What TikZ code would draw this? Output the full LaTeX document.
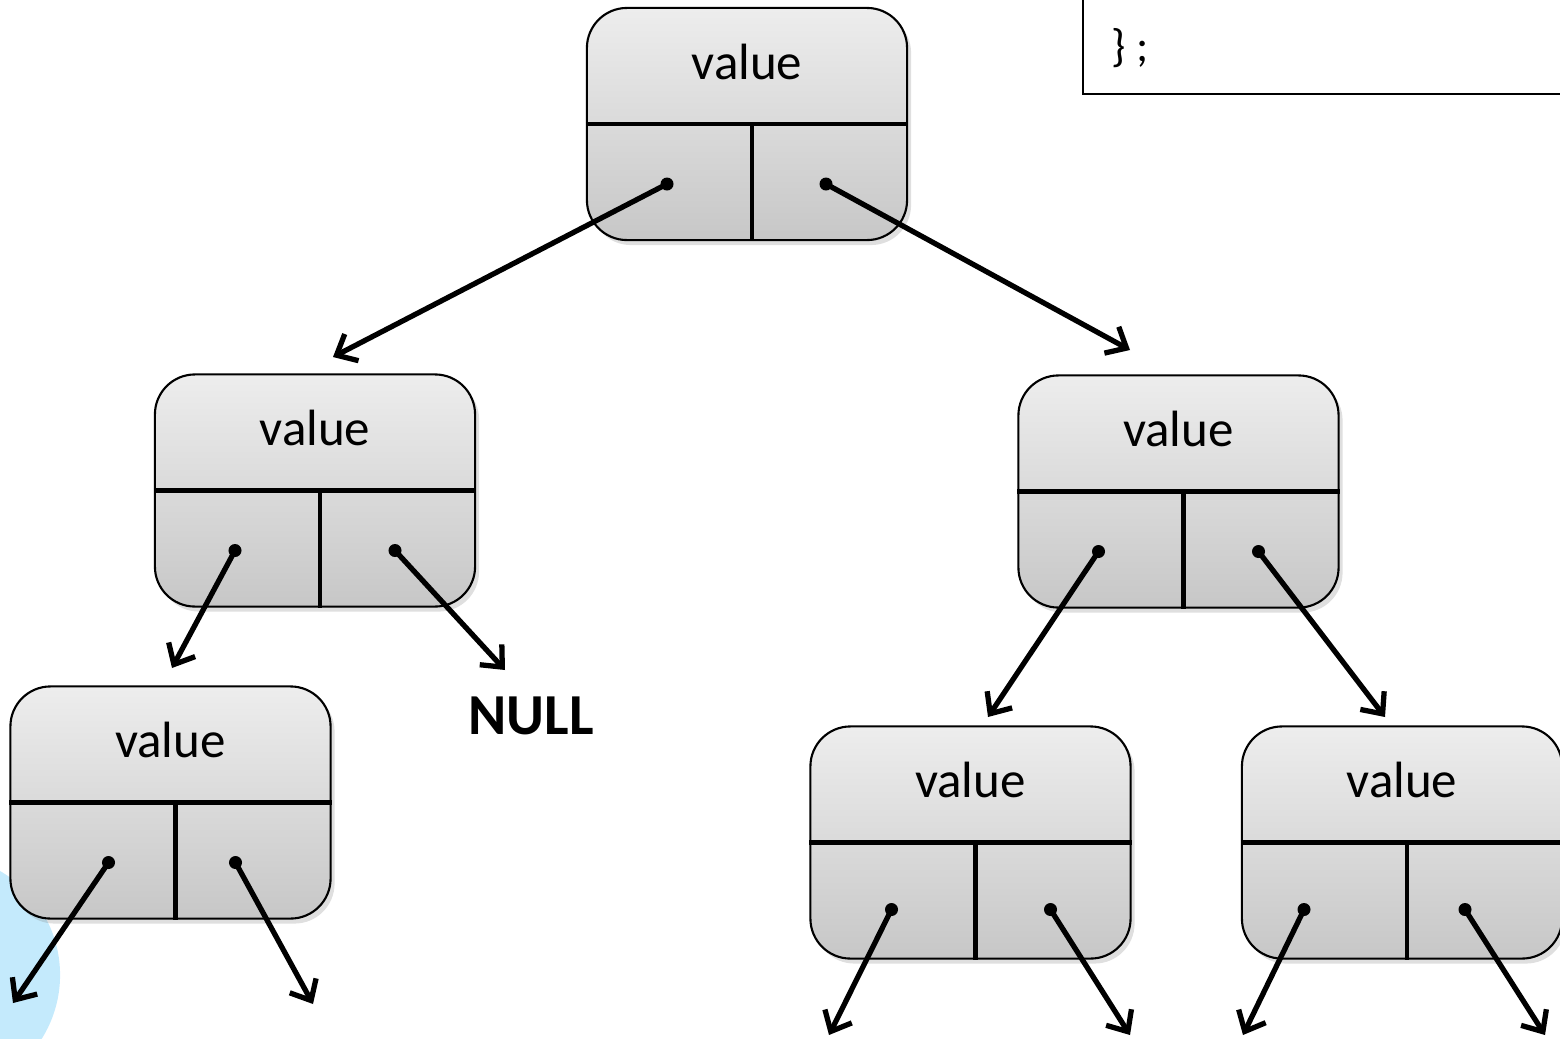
\documentclass[tikz,border=0pt]{standalone}
\usepackage{fontspec}
\setmainfont{Carlito}
\usetikzlibrary{arrows.meta,shadows}
\definecolor{glow}{RGB}{196,234,252}

\tikzset{
  cell/.style={draw, line width=0.6pt, rounded corners=0.4cm, inner sep=0pt,
    minimum width=3.2cm, minimum height=2.32cm,
    top color=black!7, bottom color=black!22,
    drop shadow={opacity=0.25, shadow xshift=0.04cm, shadow yshift=-0.05cm}},
  bar/.style={line width=1.3pt},
  ptr/.style={line width=1.5pt, -{Straight Barb[length=1.7mm,width=3mm]}},
  lbl/.style={font=\fontsize{14.5}{17}\selectfont},
}

% one tree cell: name, x, y (centre), left dot shift, right dot shift
\newcommand{\treenode}[5]{%
  \node[cell] (#1) at (#2,#3) {};
  \draw[bar] (#1.west) -- (#1.east);
  \draw[bar] ([xshift=0.05cm]#1.center) -- ([xshift=0.05cm]#1.south);
  \node[lbl] (#1-val) at ([yshift=0.62cm]#1.center) {value};
  \coordinate (#1-l) at ([shift={(#4)}]#1.center);
  \coordinate (#1-r) at ([shift={(#5)}]#1.center);
  \fill (#1-l) circle (0.065cm);
  \fill (#1-r) circle (0.065cm);
}

\begin{document}
\begin{tikzpicture}[x=0.01cm, y=-0.01cm]

\useasboundingbox (0,0) rectangle (1560,1039);
\clip (0,0) rectangle (1560,1039);

\fill[glow] (-60,975) circle (1.2cm);

% struct box
\draw[line width=0.8pt] (1083,-20) rectangle (1600,94);
\node[font=\fontsize{13}{15}\selectfont] (code) at (1130,48) {\}~;};

\treenode{n1}{747}{124}{-80,60}{79,60}
\treenode{n2}{315}{490.5}{-80,60}{80,60}
\treenode{n3}{1178.5}{491.5}{-80,60}{80,60}
\treenode{n4}{170.5}{802.5}{-62,60}{65,60}
\treenode{n5}{970.5}{842.5}{-79,67}{80,67}
\treenode{n6}{1402}{842.5}{-98,67}{63,67}

\node[font=\fontsize{16.5}{19}\selectfont\bfseries] (null) at (531,716) {NULL};

\coordinate (a1) at (333,357);
\coordinate (a2) at (1130,350);
\coordinate (a3) at (172,668);
\coordinate (a4) at (505,670);
\coordinate (a5) at (988,717);
\coordinate (a6) at (1385,717);
\coordinate (a7) at (13,1003);
\coordinate (a8) at (313,1004);
\coordinate (a9) at (829,1035);
\coordinate (a10) at (1130,1035);
\coordinate (a11) at (1243,1035);
\coordinate (a12) at (1545,1035);

\draw[ptr] (n1-l) -- (a1);
\draw[ptr] (n1-r) -- (a2);
\draw[ptr] (n2-l) -- (a3);
\draw[ptr] (n2-r) -- (a4);
\draw[ptr] (n3-l) -- (a5);
\draw[ptr] (n3-r) -- (a6);
\draw[ptr] (n4-l) -- (a7);
\draw[ptr] (n4-r) -- (a8);
\draw[ptr] (n5-l) -- (a9);
\draw[ptr] (n5-r) -- (a10);
\draw[ptr] (n6-l) -- (a11);
\draw[ptr] (n6-r) -- (a12);

\end{tikzpicture}
\end{document}
